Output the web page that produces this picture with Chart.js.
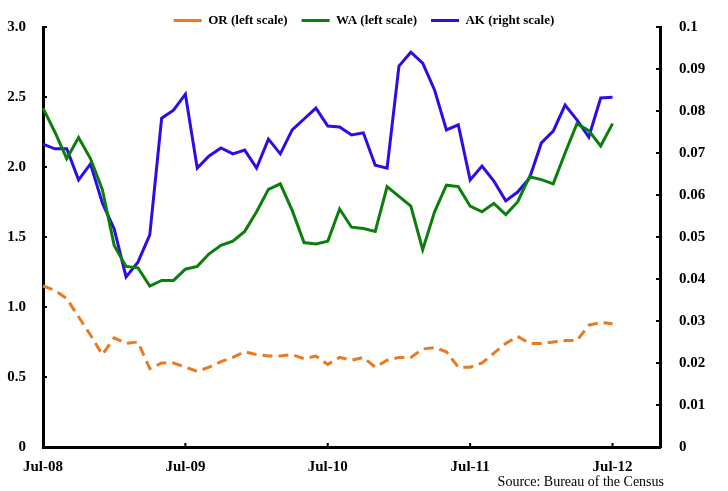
<!DOCTYPE html>
<html>
<head>
<meta charset="utf-8">
<script src="https://cdn.jsdelivr.net/npm/chart.js@4"></script>
<style>
  body { margin: 0; background: #fff; }
  #wrap { width: 728px; height: 491px; }
</style>
</head>
<body>
<div id="wrap"><canvas id="chart" width="728" height="491"></canvas></div>
<script>
const months = [
  'Jul-08','Aug-08','Sep-08','Oct-08','Nov-08','Dec-08','Jan-09','Feb-09','Mar-09','Apr-09','May-09','Jun-09',
  'Jul-09','Aug-09','Sep-09','Oct-09','Nov-09','Dec-09','Jan-10','Feb-10','Mar-10','Apr-10','May-10','Jun-10',
  'Jul-10','Aug-10','Sep-10','Oct-10','Nov-10','Dec-10','Jan-11','Feb-11','Mar-11','Apr-11','May-11','Jun-11',
  'Jul-11','Aug-11','Sep-11','Oct-11','Nov-11','Dec-11','Jan-12','Feb-12','Mar-12','Apr-12','May-12','Jun-12',
  'Jul-12','Aug-12','Sep-12','Oct-12','Nov-12'
];
const tickMonths = ['Jul-08', 'Jul-09', 'Jul-10', 'Jul-11', 'Jul-12'];

// left scale
const orValues = [1.15, 1.12, 1.06, 0.93, 0.80, 0.66, 0.78, 0.74, 0.75, 0.56, 0.60, 0.60,
  0.57, 0.54, 0.57, 0.61, 0.64, 0.68, 0.66, 0.65, 0.65, 0.66, 0.63, 0.65,
  0.59, 0.64, 0.62, 0.64, 0.57, 0.62, 0.64, 0.64, 0.70, 0.71, 0.68, 0.57,
  0.57, 0.60, 0.67, 0.74, 0.79, 0.74, 0.74, 0.75, 0.76, 0.76, 0.87, 0.89, 0.88];
const waValues = [2.42, 2.25, 2.06, 2.21, 2.06, 1.84, 1.44, 1.29, 1.28, 1.15, 1.19, 1.19,
  1.27, 1.29, 1.38, 1.44, 1.47, 1.54, 1.68, 1.84, 1.88, 1.69, 1.46, 1.45,
  1.47, 1.70, 1.57, 1.56, 1.54, 1.86, 1.79, 1.72, 1.41, 1.68, 1.87, 1.86,
  1.72, 1.68, 1.74, 1.66, 1.75, 1.93, 1.91, 1.88, 2.10, 2.31, 2.26, 2.15, 2.31];
// right scale
const akValues = [0.0721, 0.0710, 0.0710, 0.0636, 0.0674, 0.0581, 0.0519, 0.0405, 0.0440, 0.0505, 0.0783, 0.0802,
  0.0840, 0.0664, 0.0693, 0.0712, 0.0698, 0.0707, 0.0664, 0.0733, 0.0698, 0.0755, 0.0781, 0.0807,
  0.0764, 0.0762, 0.0743, 0.0748, 0.0671, 0.0664, 0.0907, 0.0940, 0.0914, 0.0850, 0.0755, 0.0767,
  0.0636, 0.0669, 0.0633, 0.0586, 0.0607, 0.0640, 0.0724, 0.0752, 0.0814, 0.0779, 0.0738, 0.0831, 0.0833];

const leftTicks = [0, 0.5, 1.0, 1.5, 2.0, 2.5, 3.0];
const rightTicks = [0, 0.01, 0.02, 0.03, 0.04, 0.05, 0.06, 0.07, 0.08, 0.09, 0.1];
const sourceText = 'Source: Bureau of the Census';

Chart.defaults.font.family = '"Liberation Serif", "Times New Roman", serif';
Chart.defaults.color = '#000';

const tickFont = { size: 15, weight: 'bold' };

// small inside tick marks + source note
const extras = {
  id: 'extras',
  beforeInit(chart) {
    const legend = chart.legend;
    const fit = legend.fit;
    legend.fit = function () {
      fit.bind(legend)();
      this.height = 27;
    };
  },
  afterDraw(chart) {
    const { ctx, scales } = chart;
    const { x, y, y2 } = scales;
    ctx.save();
    ctx.strokeStyle = '#000';
    ctx.lineWidth = 2;
    ctx.beginPath();
    leftTicks.forEach(v => {
      const py = y.getPixelForValue(v);
      ctx.moveTo(chart.chartArea.left, py);
      ctx.lineTo(chart.chartArea.left + 4, py);
    });
    rightTicks.forEach(v => {
      const py = y2.getPixelForValue(v);
      ctx.moveTo(chart.chartArea.right, py);
      ctx.lineTo(chart.chartArea.right - 4, py);
    });
    tickMonths.forEach(m => {
      const px = x.getPixelForValue(months.indexOf(m));
      ctx.moveTo(px, chart.chartArea.bottom);
      ctx.lineTo(px, chart.chartArea.bottom - 4);
    });
    ctx.stroke();

    ctx.font = '14px "Liberation Serif", serif';
    ctx.fillStyle = '#000';
    ctx.textAlign = 'right';
    ctx.textBaseline = 'middle';
    ctx.fillText(sourceText, 664, 482);
    ctx.restore();
  }
};

new Chart(document.getElementById('chart'), {
  type: 'line',
  data: {
    labels: months,
    datasets: [
      {
        label: 'OR (left scale)',
        data: orValues,
        yAxisID: 'y',
        borderColor: '#EB7A1E',
        backgroundColor: '#EB7A1E',
        borderWidth: 3,
        borderDash: [10, 6],
        pointRadius: 0,
        tension: 0
      },
      {
        label: 'WA (left scale)',
        data: waValues,
        yAxisID: 'y',
        borderColor: '#0B7F0B',
        backgroundColor: '#0B7F0B',
        borderWidth: 3,
        pointRadius: 0,
        tension: 0
      },
      {
        label: 'AK (right scale)',
        data: akValues,
        yAxisID: 'y2',
        borderColor: '#2B0EE6',
        backgroundColor: '#2B0EE6',
        borderWidth: 3,
        pointRadius: 0,
        tension: 0
      }
    ]
  },
  options: {
    responsive: false,
    animation: false,
    layout: { padding: 0 },
    plugins: {
      legend: {
        display: true,
        position: 'top',
        labels: {
          usePointStyle: true,
          pointStyle: 'line',
          pointStyleWidth: 28,
          boxHeight: 13,
          padding: 14,
          font: { size: 13, weight: 'bold' }
        }
      },
      tooltip: { enabled: false }
    },
    scales: {
      x: {
        type: 'category',
        offset: false,
        grid: { display: false },
        border: { display: true, width: 3, color: '#000' },
        afterFit: s => { s.height = 44; },
        ticks: {
          autoSkip: false,
          maxRotation: 0,
          padding: 3,
          font: tickFont,
          callback: function (v, i) {
            return tickMonths.includes(months[i]) ? months[i] : '';
          }
        }
      },
      y: {
        position: 'left',
        min: 0,
        max: 3,
        grid: { display: false },
        border: { display: true, width: 3, color: '#000' },
        afterFit: s => { s.width = 43; },
        ticks: {
          stepSize: 0.5,
          padding: 9,
          font: tickFont,
          callback: v => v === 0 ? '0' : v.toFixed(1)
        }
      },
      y2: {
        position: 'right',
        min: 0,
        max: 0.1,
        grid: { display: false },
        border: { display: true, width: 3, color: '#000' },
        afterFit: s => { s.width = 68; },
        ticks: {
          stepSize: 0.01,
          padding: 11,
          font: tickFont,
          callback: v => v === 0 ? '0' : String(Math.round(v * 100) / 100)
        }
      }
    }
  },
  plugins: [extras]
});
</script>
</body>
</html>
